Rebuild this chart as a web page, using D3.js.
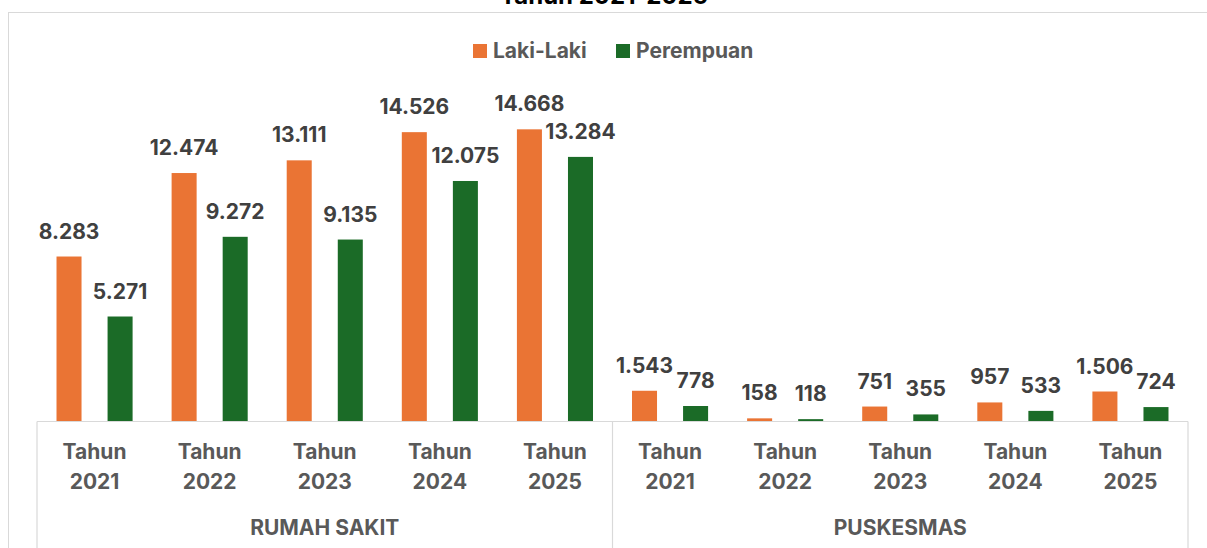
<!DOCTYPE html>
<html lang="id">
<head>
<meta charset="UTF-8">
<title>Tahun 2021-2025</title>
<script src="https://d3js.org/d3.v7.min.js"></script>
<style>
    body { margin: 0; background: #fff; }
    svg text { font-family: Inter, "Noto Sans", sans-serif; font-weight: 700; }
</style>
</head>
<body>
<div id="chart"></div>
<script>
// data
const groups = ['RUMAH SAKIT', 'PUSKESMAS'];
const years = ['Tahun 2021', 'Tahun 2022', 'Tahun 2023', 'Tahun 2024', 'Tahun 2025'];
const seriesNames = ['Laki-Laki', 'Perempuan'];
const lakiRumahSakit = [8283, 12474, 13111, 14526, 14668];
const perempuanRumahSakit = [5271, 9272, 9135, 12075, 13284];
const lakiPuskesmas = [1543, 158, 751, 957, 1506];
const perempuanPuskesmas = [778, 118, 355, 533, 724];
const colors = ['#EA7434', '#1B6B27'];

const width = 1207, height = 548;
const baseY = 421.5;

const rows = [];
groups.forEach((g, gi) => {
    const laki = gi === 0 ? lakiRumahSakit : lakiPuskesmas;
    const perempuan = gi === 0 ? perempuanRumahSakit : perempuanPuskesmas;
    years.forEach((yr, i) => {
        rows.push({ group: g, year: yr, series: seriesNames[0], value: laki[i] });
        rows.push({ group: g, year: yr, series: seriesNames[1], value: perempuan[i] });
    });
});

const fmt = d3.formatLocale({ decimal: ',', thousands: '.', grouping: [3], currency: ['Rp', ''] }).format(',d');

const svg = d3.select('#chart').append('svg')
    .attr('width', width)
    .attr('height', height);

// outer chart border
svg.append('rect')
    .attr('x', 8.5).attr('y', 12.5)
    .attr('width', 1240).attr('height', 560)
    .attr('fill', 'none')
    .attr('stroke', '#d9d9d9');

// title (mostly cut off at the top, as in the source)
svg.append('text')
    .attr('x', 604).attr('y', 4)
    .attr('text-anchor', 'middle')
    .attr('fill', '#000')
    .style('font-size', '24px')
    .text('Tahun 2021-2025');

const x0 = d3.scaleBand().domain(groups).range([37, 1188]);
const x1 = d3.scaleBand().domain(years).range([0, x0.bandwidth()]);
const x2 = d3.scaleBand().domain(seriesNames).range([0, x1.bandwidth()])
    .paddingInner(0.51).paddingOuter(0.382);
const y = d3.scaleLinear().domain([0, 16000]).range([baseY, baseY - 318.7]);
const color = d3.scaleOrdinal().domain(seriesNames).range(colors);

const xPos = d => x0(d.group) + x1(d.year) + x2(d.series);

// bars
svg.append('g').selectAll('rect')
    .data(rows)
    .enter().append('rect')
    .attr('x', xPos)
    .attr('y', d => y(d.value))
    .attr('width', x2.bandwidth())
    .attr('height', d => baseY - y(d.value))
    .attr('fill', d => color(d.series));

// value labels
svg.append('g').selectAll('text')
    .data(rows)
    .enter().append('text')
    .attr('x', d => xPos(d) + x2.bandwidth() / 2)
    .attr('y', d => y(d.value) - 18)
    .attr('text-anchor', 'middle')
    .attr('fill', '#404040')
    .style('font-size', '21px')
    .text(d => fmt(d.value));

// category axis
const axis = svg.append('g').attr('stroke', '#d9d9d9').attr('stroke-width', 1.2);
axis.append('line')
    .attr('x1', x0.range()[0]).attr('x2', x0.range()[1])
    .attr('y1', baseY).attr('y2', baseY);
axis.selectAll('.sep')
    .data([x0(groups[0]), x0(groups[1]), x0.range()[1]])
    .enter().append('line')
    .attr('class', 'sep')
    .attr('x1', d => d).attr('x2', d => d)
    .attr('y1', baseY).attr('y2', height);

const yearLabels = svg.append('g').selectAll('text')
    .data(d3.cross(groups, years))
    .enter().append('text')
    .attr('text-anchor', 'middle')
    .attr('fill', '#595959')
    .style('font-size', '21px')
    .attr('transform', d => `translate(${x0(d[0]) + x1(d[1]) + x1.bandwidth() / 2},0)`);
yearLabels.append('tspan').attr('x', 0).attr('y', 459).text(d => d[1].split(' ')[0]);
yearLabels.append('tspan').attr('x', 0).attr('y', 489).text(d => d[1].split(' ')[1]);

svg.append('g').selectAll('text')
    .data(groups)
    .enter().append('text')
    .attr('x', d => x0(d) + x0.bandwidth() / 2)
    .attr('y', 535)
    .attr('text-anchor', 'middle')
    .attr('fill', '#595959')
    .style('font-size', '21px')
    .text(d => d);

// legend
const legendX = [473, 616];
const legend = svg.append('g').selectAll('g')
    .data(seriesNames)
    .enter().append('g')
    .attr('transform', (d, i) => `translate(${legendX[i]},44)`);
legend.append('rect')
    .attr('width', 14).attr('height', 14)
    .attr('fill', d => color(d));
legend.append('text')
    .attr('x', 20).attr('y', 14)
    .attr('fill', '#595959')
    .style('font-size', '21px')
    .text(d => d);
</script>
</body>
</html>
